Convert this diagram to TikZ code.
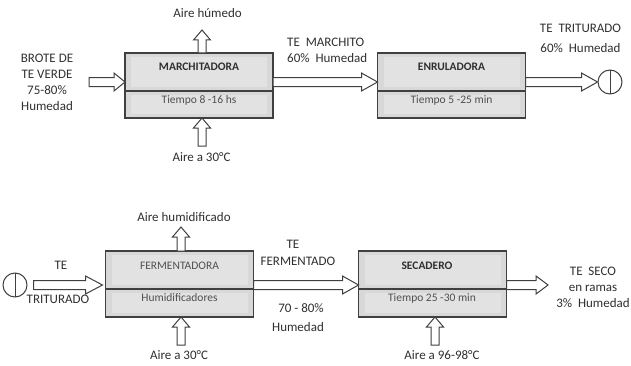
\documentclass[tikz,border=0pt]{standalone}
\usepackage{fontspec}
\setmainfont{Carlito}
\usetikzlibrary{calc}
\definecolor{boxline}{HTML}{404040}
\definecolor{boxgray}{HTML}{D8D8D8}
\definecolor{boxlight}{HTML}{E2E2E2}
\definecolor{txt}{HTML}{303030}
\definecolor{txtgray}{HTML}{505050}
\definecolor{arrline}{HTML}{404040}
\begin{document}
\begin{tikzpicture}[x=1pt,y=1pt,
 half/.style={draw=boxline, line width=1.3pt, fill=boxgray, minimum width=148pt, inner sep=0pt, outer sep=0pt,
   path picture={\fill[boxlight] ([shift={(6pt,4pt)}]path picture bounding box.south west) rectangle ([shift={(-6pt,-4pt)}]path picture bounding box.north east);}},
 tophalf/.style={half, minimum height=38pt},
 bothalf/.style={half, minimum height=27pt},
 lbl/.style={font=\fontsize{13}{16}\selectfont, text=txt, align=center, inner sep=0pt},
 ttl/.style={font=\fontsize{11.5}{14}\selectfont\bfseries, text=txt, inner sep=0pt},
 sub/.style={font=\fontsize{11.5}{14}\selectfont, text=txtgray, inner sep=0pt},
 arr/.style={draw=arrline, line width=1pt, fill=white, line join=miter},
 circ/.style={circle, draw=arrline, line width=1pt, fill=white, minimum size=24pt, inner sep=0pt,
   path picture={\draw[arrline, line width=1pt] (path picture bounding box.north) -- (path picture bounding box.south);}},
 hollowR/.style={to path={let \p1=(\tikztostart), \p2=(\tikztotarget) in
   (\x1,\y1+4.5pt) -- (\x2-#1,\y1+4.5pt) -- (\x2-#1,\y1+9pt) -- (\x2,\y1) -- (\x2-#1,\y1-9pt) -- (\x2-#1,\y1-4.5pt) -- (\x1,\y1-4.5pt) -- cycle}},
 hollowR/.default=16pt,
 hollowU/.style={to path={let \p1=(\tikztostart), \p2=(\tikztotarget) in
   (\x1-4pt,\y1) -- (\x1-4pt,\y2-#1) -- (\x1-8.5pt,\y2-#1) -- (\x1,\y2) -- (\x1+8.5pt,\y2-#1) -- (\x1+4pt,\y2-#1) -- (\x1+4pt,\y1) -- cycle}},
 hollowU/.default=10pt]
\useasboundingbox[fill=white] (0,0) rectangle (631,365);

% ---------- top row ----------
\node[tophalf] (m1) at (199,293) {};
\node[bothalf] (m2) at (199,260.5) {};
\node[ttl] (m1t) at (199,298) {MARCHITADORA};
\node[sub] (m2t) at (199,265) {Tiempo 8 -16 hs};

\node[tophalf] (e1) at (451.5,293) {};
\node[bothalf] (e2) at (451.5,260.5) {};
\node[ttl] (e1t) at (451.5,298) {ENRULADORA};
\node[sub] (e2t) at (451.5,265) {Tiempo 5 -25 min};

\node[lbl] (brote) at (47,283) {BROTE DE\\TE VERDE\\75-80\%\\Humedad};
\coordinate (in1) at (89,283);
\draw[arr] (in1) to[hollowR=11pt] ([yshift=-10pt]m1.west);

\node[lbl] (airh) at (207.5,352) {Aire húmedo};
\coordinate (up1) at (202,335);
\draw[arr] ([xshift=3pt]m1.north) to[hollowU] (up1);

\node[lbl] (air1) at (201.5,208) {Aire a 30°C};
\coordinate (dn1) at (202,219);
\draw[arr] (dn1) to[hollowU] ([xshift=3pt]m2.south);

\node[lbl, align=left, anchor=west] (march) at (287,315) {TE\ \ MARCHITO\\60\%\ \ Humedad};
\draw[arr] ([yshift=-10pt]m1.east) to[hollowR] ([yshift=-10pt]e1.west);

\node[circ] (c1) at (610,283) {};
\draw[arr] ([yshift=-10pt]e1.east) to[hollowR] (c1.west);
\node[lbl, font=\fontsize{13}{20}\selectfont] (trit1) at (580.5,327) {TE\ \ TRITURADO\\60\%\ \ Humedad};

% ---------- bottom row ----------
\node[tophalf] (f1) at (179.5,95) {};
\node[bothalf, minimum height=28pt] (f2) at (179.5,62) {};
\node[sub] (f1t) at (179.5,99) {FERMENTADORA};
\node[sub] (f2t) at (179.5,67) {Humidificadores};

\node[tophalf] (s1) at (432.5,95) {};
\node[bothalf, minimum height=28pt] (s2) at (432.5,62) {};
\node[ttl] (s1t) at (427,99) {SECADERO};
\node[sub] (s2t) at (432,67) {Tiempo 25 -30 min};

\node[circ] (c2) at (15,80) {};
\draw[arr] ([xshift=6pt]c2.east) to[hollowR=17pt] ([xshift=-3pt,yshift=-15pt]f1.west);
\node[lbl] (te2) at (61,100) {TE};
\node[lbl] (trit2) at (58,66) {TRITURADO};

\node[lbl] (airhum) at (184,148) {Aire humidificado};
\coordinate (up2) at (181,138);
\draw[arr] ([xshift=1.5pt]f1.north) to[hollowU] (up2);

\node[lbl] (air2) at (179,10) {Aire a 30°C};
\coordinate (dn2) at (181,20);
\draw[arr] (dn2) to[hollowU] ([xshift=1.5pt]f2.south);

\draw[arr] ([yshift=-15pt]f1.east) to[hollowR] ([yshift=-15pt]s1.west);
\node[lbl] (te3) at (293,121) {TE};
\node[lbl] (ferm) at (298,104) {FERMENTADO};
\node[lbl] (pct) at (301,57) {70 - 80\%};
\node[lbl] (hum3) at (298,38) {Humedad};

\coordinate (out2) at (548,80);
\draw[arr] ([yshift=-15pt]s1.east) to[hollowR=12pt] (out2);
\node[lbl] (seco) at (593,94) {TE\ \ SECO};
\node[lbl] (ramas) at (593,77) {en ramas};
\node[lbl] (hum4) at (593,62) {3\%\ \ Humedad};

\node[lbl] (air3) at (442,10) {Aire a 96-98°C};
\coordinate (dn3) at (435,20);
\draw[arr] (dn3) to[hollowU] ([xshift=2.5pt]s2.south);
\end{tikzpicture}
\end{document}
